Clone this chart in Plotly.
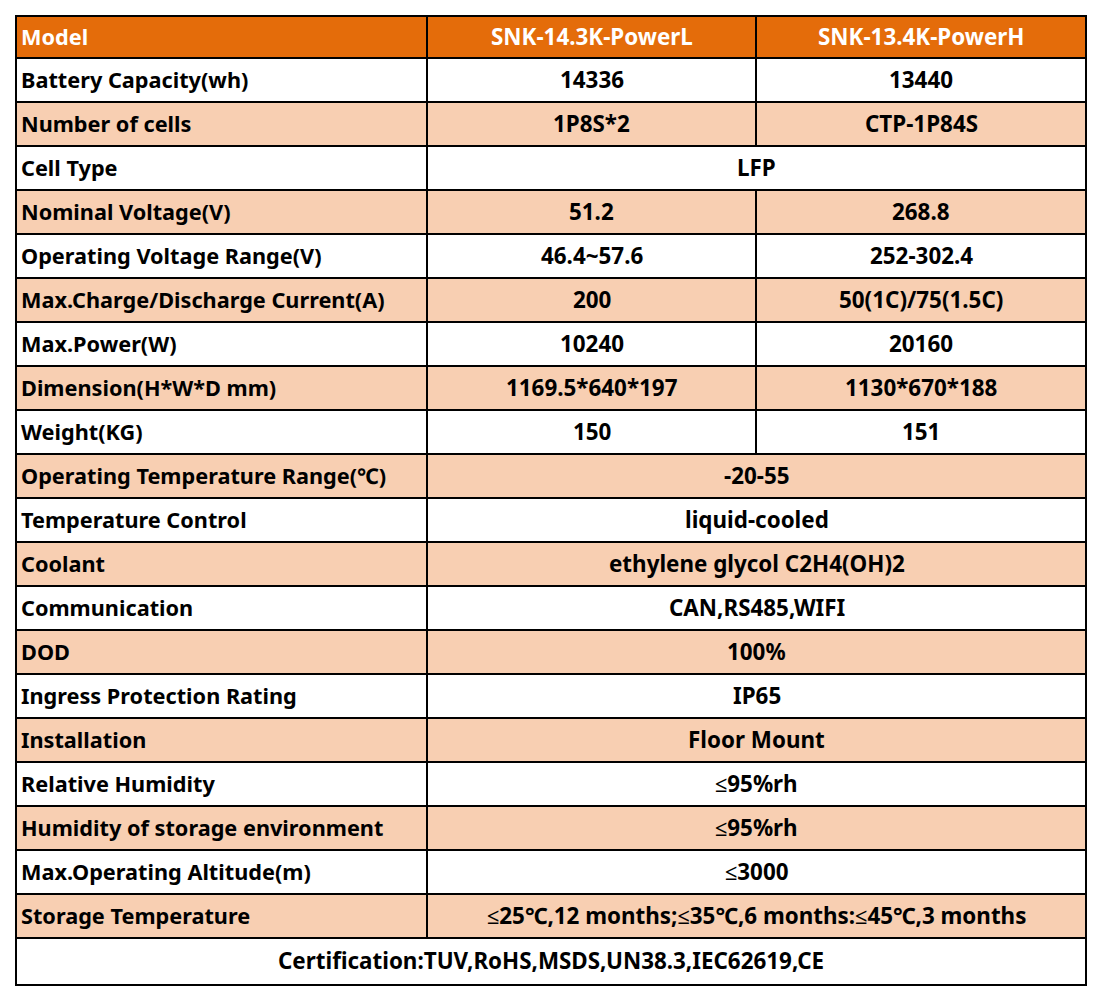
import plotly.graph_objects as go

# table content
header = ["Model", "SNK-14.3K-PowerL", "SNK-13.4K-PowerH"]

labels = [
    "Battery Capacity(wh)",
    "Number of cells",
    "Cell Type",
    "Nominal Voltage(V)",
    "Operating Voltage Range(V)",
    "Max.Charge/Discharge Current(A)",
    "Max.Power(W)",
    "Dimension(H*W*D mm)",
    "Weight(KG)",
    "Operating Temperature Range(℃)",
    "Temperature Control",
    "Coolant",
    "Communication",
    "DOD",
    "Ingress Protection Rating",
    "Installation",
    "Relative Humidity",
    "Humidity of storage environment",
    "Max.Operating Altitude(m)",
    "Storage Temperature",
]

# None in the second column = merged with the first value column
power_l = [
    "14336", "1P8S*2", "LFP", "51.2", "46.4~57.6", "200", "10240",
    "1169.5*640*197", "150", "-20-55", "liquid-cooled",
    "ethylene glycol C2H4(OH)2", "CAN,RS485,WIFI", "100%", "IP65",
    "Floor Mount", "≤95%rh", "≤95%rh", "≤3000",
    "≤25℃,12 months;≤35℃,6 months:≤45℃,3 months",
]
power_h = [
    "13440", "CTP-1P84S", None, "268.8", "252-302.4", "50(1C)/75(1.5C)",
    "20160", "1130*670*188", "151", None, None, None, None, None, None,
    None, None, None, None, None,
]

footer = "Certification:TUV,RoHS,MSDS,UN38.3,IEC62619,CE"

ORANGE = "#E46C0A"
PEACH = "#F8CFB2"
FONT = "Noto Sans"
FS_LAB = 21.7
FS_VAL = 22.4

# geometry (page coords; the page body has an 8px margin)
PAD = 8
col_x = [16, 427, 756, 1086]
top = 16
head_h = 42
row_h = 44
foot_h = 47
DY = -1  # nudge text up a little

shapes = []
annos = []


def cell(x0, x1, y0, y1, fill):
    shapes.append(dict(type="rect", xref="x", yref="y", x0=x0, x1=x1, y0=y0, y1=y1,
                       fillcolor=fill, line=dict(color="black", width=2), layer="below"))


def text(s, x, y, anchor="center", color="black", size=FS_VAL):
    annos.append(dict(x=x, y=y + DY, xref="x", yref="y", text="<b>%s</b>" % s, showarrow=False,
                      xanchor=anchor, yanchor="middle",
                      font=dict(family=FONT, size=size, color=color)))


# header row
y0, y1 = top, top + head_h
for i in range(3):
    cell(col_x[i], col_x[i + 1], y0, y1, ORANGE)
text(header[0], col_x[0] + 3, (y0 + y1) / 2, "left", "white", FS_LAB)
text(header[1], (col_x[1] + col_x[2]) / 2, (y0 + y1) / 2, color="white")
text(header[2], (col_x[2] + col_x[3]) / 2, (y0 + y1) / 2, color="white")

# body rows
for i, lab in enumerate(labels):
    y0 = top + head_h + i * row_h
    y1 = y0 + row_h
    ym = (y0 + y1) / 2
    fill = "white" if i % 2 == 0 else PEACH
    cell(col_x[0], col_x[1], y0, y1, fill)
    text(lab, col_x[0] + 3, ym, "left", size=FS_LAB)
    if power_h[i] is None:
        cell(col_x[1], col_x[3], y0, y1, fill)
        text(power_l[i], (col_x[1] + col_x[3]) / 2, ym)
    else:
        cell(col_x[1], col_x[2], y0, y1, fill)
        cell(col_x[2], col_x[3], y0, y1, fill)
        text(power_l[i], (col_x[1] + col_x[2]) / 2, ym)
        text(power_h[i], (col_x[2] + col_x[3]) / 2, ym)

# footer
y0 = top + head_h + len(labels) * row_h
y1 = y0 + foot_h
cell(col_x[0], col_x[3], y0, y1, "white")
text(footer, (col_x[0] + col_x[3]) / 2, (y0 + y1) / 2)

fig = go.Figure()
fig.update_layout(
    width=1102, height=1002,
    margin=dict(l=0, r=0, t=0, b=0),
    paper_bgcolor="white", plot_bgcolor="white",
    xaxis=dict(range=[PAD, 1102 + PAD], visible=False, fixedrange=True),
    yaxis=dict(range=[1002 + PAD, PAD], visible=False, fixedrange=True),
    shapes=shapes, annotations=annos,
    showlegend=False,
)
fig.write_html("out.html", config=dict(displayModeBar=False))
